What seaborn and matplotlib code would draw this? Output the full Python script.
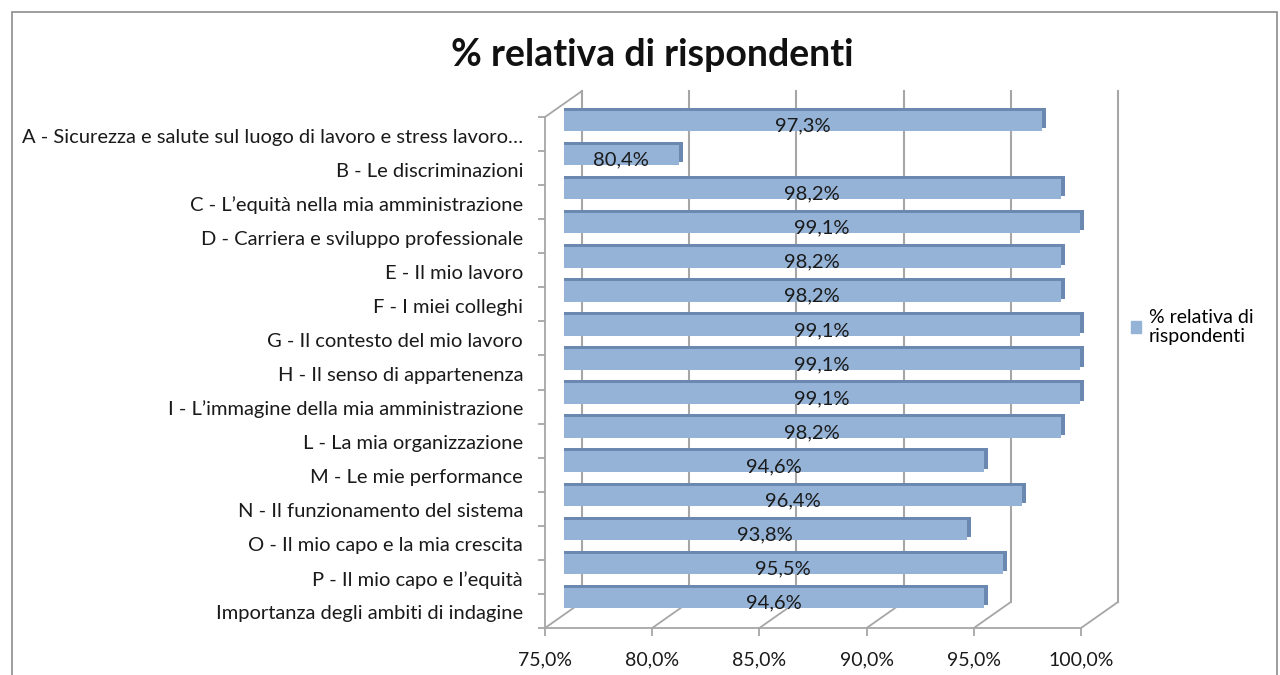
import pandas as pd
import matplotlib
matplotlib.use("Agg")
import matplotlib.pyplot as plt
import seaborn as sns
from matplotlib.transforms import ScaledTranslation
from matplotlib.patches import Patch, Rectangle

categorie = [
    "A - Sicurezza e salute sul luogo di lavoro e stress lavoro…",
    "B - Le discriminazioni",
    "C - L’equità nella mia amministrazione",
    "D - Carriera e sviluppo professionale",
    "E - Il mio lavoro",
    "F - I miei colleghi",
    "G - Il contesto del mio lavoro",
    "H - Il senso di appartenenza",
    "I - L’immagine della mia amministrazione",
    "L - La mia organizzazione",
    "M - Le mie performance",
    "N - Il funzionamento del sistema",
    "O - Il mio capo e la mia crescita",
    "P - Il mio capo e l’equità",
    "Importanza degli ambiti di indagine",
]
valori = [97.3, 80.4, 98.2, 99.1, 98.2, 98.2, 99.1, 99.1, 99.1, 98.2, 94.6, 96.4, 93.8, 95.5, 94.6]
tick_x = [75, 80, 85, 90, 95, 100]
titolo = "% relativa di rispondenti"
serie = "% relativa di\nrispondenti"

plt.rcParams['font.family'] = ['Lato', 'DejaVu Sans']

df = pd.DataFrame({'ambito': categorie, 'valore': valori})

DPI = 100
fig = plt.figure(figsize=(12.8, 6.75), dpi=DPI)
# asse sul piano "medio" della finta prospettiva 3D
ax = fig.add_axes([563.5 / 1280, 1 - 615 / 675, 536 / 1280, 511 / 675])

col_bar = '#95B3D7'
col_side = '#6A88B0'
col_grid = '#A6A6A6'
col_txt = '#1A1A1A'


def px(dx, dy):
    return ScaledTranslation(dx / DPI, dy / DPI, fig.dpi_scale_trans)


# ombra (lato e bordo superiore della barra)
sns.barplot(data=df, x='valore', y='ambito', orient='h', color=col_side,
            saturation=1, width=0.6, ax=ax)
for p in ax.patches:
    p.set_transform(ax.transData + px(4, 3))
sns.barplot(data=df, x='valore', y='ambito', orient='h', color=col_bar,
            saturation=1, width=0.6, ax=ax)

ax.set_xlim(75, 100)
ax.set_ylim(len(categorie) - 0.5, -0.5)
ax.set_xticks([])
ax.set_yticks([])
ax.set_xlabel('')
ax.set_ylabel('')
for s in ax.spines.values():
    s.set_visible(False)
ax.patch.set_alpha(0)

front = ax.transData + px(-18.5, -13)
back = ax.transData + px(18.5, 13)
y0, y1 = -0.5, len(categorie) - 0.5
inv = ax.transData.inverted()


def diag(x, y):
    a = inv.transform(front.transform((x, y)))
    b = inv.transform(back.transform((x, y)))
    ax.plot([a[0], b[0]], [a[1], b[1]], color=col_grid, lw=1.3,
            clip_on=False, zorder=0)


# parete di fondo con la griglia
for v in tick_x:
    ax.plot([v, v], [y0, y1], transform=back, color=col_grid, lw=1.5,
            clip_on=False, zorder=0)
    diag(v, y1)
diag(75, y0)

# assi anteriori
ax.plot([75, 75], [y0, y1], transform=front, color=col_grid, lw=1.3, clip_on=False)
ax.plot([75, 100], [y1, y1], transform=front, color=col_grid, lw=1.3, clip_on=False)
ax.plot([75] * (len(categorie) + 1), [y0 + i for i in range(len(categorie) + 1)],
        transform=front, marker=0, ls='none', ms=5, mew=1.3, color=col_grid, clip_on=False)
ax.plot(tick_x, [y1] * len(tick_x), transform=front, marker=3, ls='none',
        ms=6, mew=1.3, color=col_grid, clip_on=False)

# etichette
for v in tick_x:
    ax.text(v, y1, f"{v:.1f}%".replace('.', ','), transform=front + px(0, -32),
            ha='center', va='center', fontsize=14, color=col_txt)
for i, c in enumerate(categorie):
    ax.text(75, i, c, transform=front + px(-22, -3), ha='right', va='center',
            fontsize=14.5, color=col_txt)
for i, v in enumerate(valori):
    ax.text((75 + v) / 2, i, f"{v:.1f}%".replace('.', ','), transform=ax.transData + px(0, -5),
            ha='center', va='center', fontsize=14.5, color=col_txt)

fig.text(652 / 1280, 1 - 55 / 675, titolo, ha='center', va='center',
         fontsize=27, fontweight='bold', color='#111111')

fig.legend(handles=[Patch(color=col_bar)], labels=[serie], loc='center left',
           bbox_to_anchor=(1113 / 1280, 1 - 327 / 675), frameon=False,
           handlelength=0.55, handleheight=0.55, handletextpad=0.4, fontsize=14)

fig.add_artist(Rectangle((12 / 1280, -0.1), 1265 / 1280, 1 - 12 / 675 + 0.1,
                         transform=fig.transFigure, fill=False,
                         edgecolor='#8C8C8C', lw=1.2))

fig.savefig('out.png', dpi=DPI)
